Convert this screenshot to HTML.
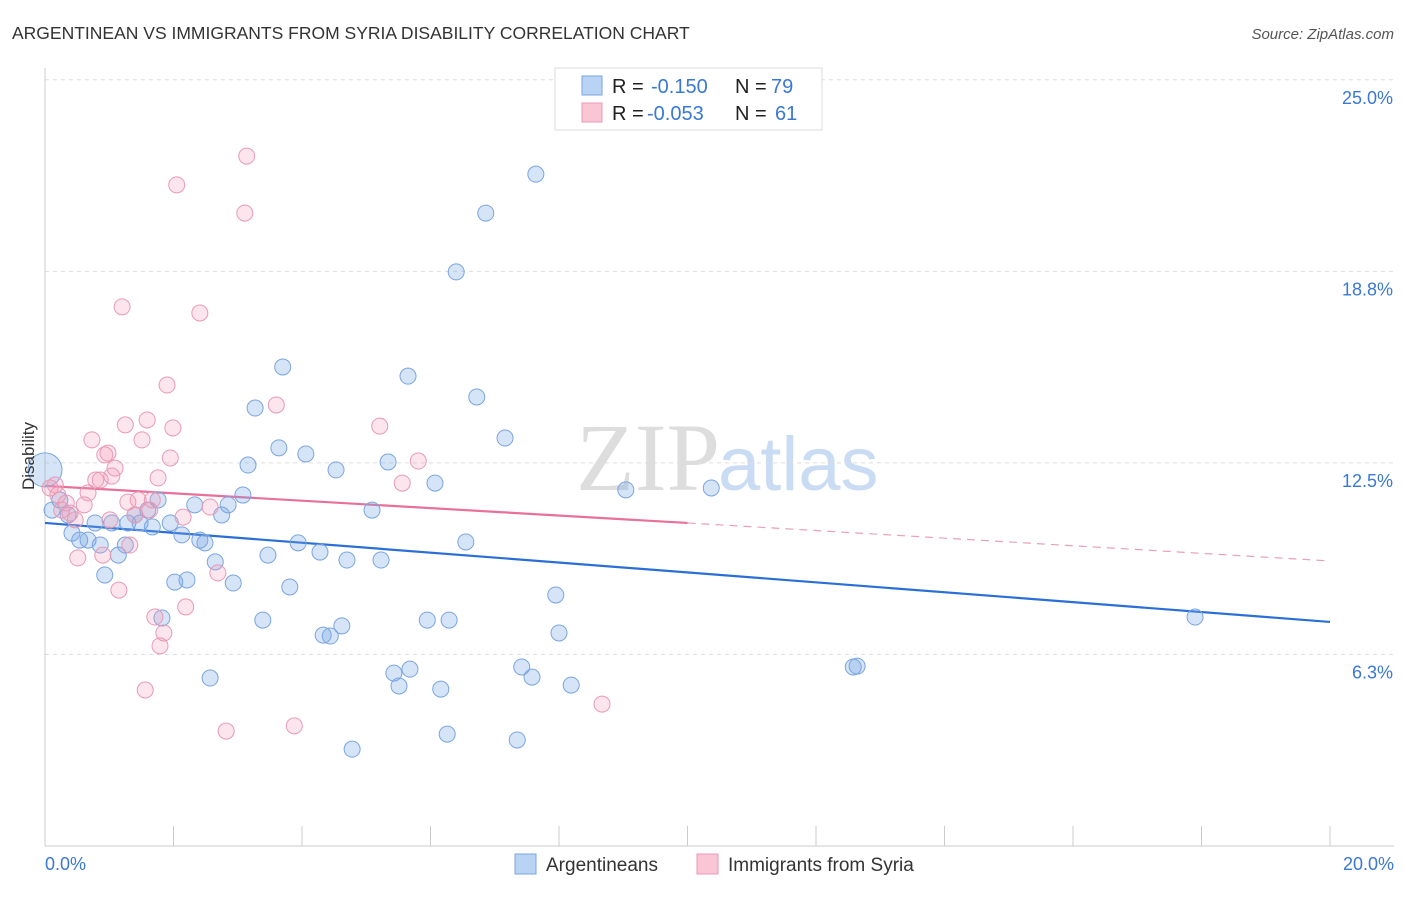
<!DOCTYPE html>
<html><head><meta charset="utf-8"><style>
body{margin:0;background:#fff;font-family:"Liberation Sans",sans-serif;}
</style></head><body>
<svg id="chart" width="1406" height="892" xmlns="http://www.w3.org/2000/svg">
<text x="12" y="39" font-size="17.5" fill="#333">ARGENTINEAN VS IMMIGRANTS FROM SYRIA DISABILITY CORRELATION CHART</text>
<text x="1394" y="39" font-size="15" fill="#555" font-style="italic" text-anchor="end">Source: ZipAtlas.com</text>
<text x="720" y="490" font-size="96" fill="#ddd" text-anchor="end" font-family="Liberation Serif">ZIP</text>
<text x="718" y="490" font-size="76" fill="#c9dcf3">atlas</text>
<g id="grid"></g><g id="axes"></g><g id="trend"></g><g id="points"></g>
<text x="34" y="456" font-size="17" fill="#333" transform="rotate(-90 34 456)" text-anchor="middle">Disability</text>
<g>
<rect x="555" y="68" width="267" height="62" fill="#fff" stroke="#ddd"/>
<rect x="582" y="76" width="20" height="19" fill="#b9d3f5" stroke="#7aa5e0"/>
<rect x="582" y="103" width="20" height="19" fill="#fac6d6" stroke="#e89ab5"/>
<text x="612" y="93" font-size="20" fill="#222">R = </text><text x="651" y="93" font-size="20" fill="#3a78d4">-0.150</text>
<text x="735" y="93" font-size="20" fill="#222">N = </text><text x="771" y="93" font-size="20" fill="#3a78d4">79</text>
<text x="612" y="120" font-size="20" fill="#222">R = </text><text x="647" y="120" font-size="20" fill="#3a78d4">-0.053</text>
<text x="735" y="120" font-size="20" fill="#222">N = </text><text x="775" y="120" font-size="20" fill="#3a78d4">61</text>
</g>
<g>
<rect x="515" y="854" width="21" height="20" fill="#b9d3f5" stroke="#7aa5e0"/>
<text x="546" y="871" font-size="19" fill="#333">Argentineans</text>
<rect x="697" y="854" width="21" height="20" fill="#fac6d6" stroke="#e89ab5"/>
<text x="728" y="871" font-size="19" fill="#333">Immigrants from Syria</text>
</g>
</svg>
<script>
const yTicks=[6.25,12.5,18.75,25];
const yTickLabels=["6.3%","12.5%","18.8%","25.0%"];
const xTicks=[0,2,4,6,8,10,12,14,16,18,20];
const blueX=[0.11,0.23,0.36,0.42,0.54,0.67,0.78,0.86,0.93,1.04,1.14,1.25,1.29,1.40,1.48,1.60,1.67,1.76,1.82,1.95,2.02,2.13,2.21,2.33,2.41,2.49,2.57,2.65,2.75,2.85,2.93,3.08,3.16,3.27,3.39,3.47,3.64,3.70,3.81,3.94,4.06,4.28,4.33,4.44,4.53,4.62,4.70,4.78,5.09,5.23,5.34,5.43,5.51,5.65,5.68,5.95,6.07,6.16,6.26,6.29,6.40,6.55,6.72,6.86,7.16,7.35,7.42,7.58,7.64,7.95,8.00,8.19,9.04,10.37,12.58,12.64,17.90,0];
const blueY=[10.96,11.29,10.80,10.21,9.98,9.98,10.54,9.82,8.84,10.54,9.49,9.82,10.54,10.80,10.54,10.96,10.41,11.29,7.44,10.54,8.61,10.15,8.68,11.13,9.98,9.89,5.48,9.27,10.80,11.13,8.58,11.45,12.43,14.29,7.37,9.49,12.99,15.63,8.45,9.89,12.79,9.59,6.88,6.85,12.27,7.18,9.33,3.16,10.96,9.33,12.53,5.64,5.22,15.33,5.77,7.37,11.84,5.12,3.65,7.37,18.73,9.92,14.65,20.65,13.31,3.46,5.84,5.51,21.92,8.19,6.95,5.25,11.62,11.68,5.84,5.87,7.47,12.27];
const pinkX=[0.08,0.16,0.20,0.26,0.33,0.39,0.47,0.51,0.61,0.67,0.73,0.79,0.86,0.90,0.93,0.98,1.01,1.04,1.09,1.15,1.20,1.25,1.29,1.32,1.40,1.45,1.51,1.56,1.59,1.63,1.67,1.71,1.76,1.79,1.85,1.90,1.95,1.99,2.05,2.15,2.19,2.41,2.57,2.69,2.82,3.11,3.14,3.60,3.88,5.21,5.56,5.81,8.67];
const pinkY=[11.68,11.78,11.45,10.96,11.19,10.86,10.64,9.40,11.13,11.52,13.25,11.94,11.94,9.49,12.76,12.82,10.64,12.07,12.33,8.35,17.59,13.74,11.22,9.82,10.80,11.29,13.25,5.09,13.90,10.96,11.29,7.47,12.01,6.53,6.95,15.04,12.66,13.64,21.57,10.73,7.80,17.39,11.06,8.91,3.75,20.65,22.51,14.39,3.92,13.70,11.84,12.56,4.63];
const blueTrend=[10.54,7.31];
const pinkTrend=[11.75,10.54,9.30];
const NS="http://www.w3.org/2000/svg";
const X=v=>45+v*64.25, Y=v=>846-v*30.65;
function mk(tag,parent){const e=document.createElementNS(NS,tag);document.getElementById(parent).appendChild(e);return e;}
yTicks.forEach((t,i)=>{
 const l=mk('line','grid');
 
 
 l.setAttribute('x1',45);l.setAttribute('x2',1394);l.setAttribute('y1',Y(t));l.setAttribute('y2',Y(t));
 l.setAttribute('stroke','#ddd');l.setAttribute('stroke-dasharray','4,4');
 const tx=mk('text','grid');
 
 
 tx.setAttribute('x',1393);tx.setAttribute('y',Y(t)+24);tx.setAttribute('text-anchor','end');
 tx.setAttribute('font-size','18');tx.setAttribute('fill','#3a78d4');tx.textContent=yTickLabels[i];
});
const ax=mk('line','axes');


ax.setAttribute('x1',45);ax.setAttribute('x2',1394);ax.setAttribute('y1',846);ax.setAttribute('y2',846);ax.setAttribute('stroke','#ccc');
const ay=mk('line','axes');


ay.setAttribute('x1',45);ay.setAttribute('x2',45);ay.setAttribute('y1',68);ay.setAttribute('y2',846);ay.setAttribute('stroke','#ccc');
xTicks.forEach(t=>{
 const l=mk('line','axes');
 
 
 l.setAttribute('x1',X(t));l.setAttribute('x2',X(t));l.setAttribute('y1',826);l.setAttribute('y2',846);l.setAttribute('stroke','#ccc');
});
[[0,"0.0%","start",45],[20,"20.0%","end",1394]].forEach(a=>{
 const tx=mk('text','axes');
 
 
 tx.setAttribute('x',a[3]);tx.setAttribute('y',870);tx.setAttribute('text-anchor',a[2]);
 tx.setAttribute('font-size','18');tx.setAttribute('fill','#3a78d4');tx.textContent=a[1];
});
function line(x1,y1,x2,y2,c,dash,name){
 const l=mk('line','trend');
 
 
 l.setAttribute('x1',X(x1));l.setAttribute('x2',X(x2));l.setAttribute('y1',Y(y1));l.setAttribute('y2',Y(y2));
 l.setAttribute('stroke',c);l.setAttribute('stroke-width',dash?1.2:2.2);if(dash)l.setAttribute('stroke-dasharray','8,6');
}
blueX.forEach((x,i)=>{
 const c=mk('circle','points');
 
 
 c.setAttribute('cx',X(x));c.setAttribute('cy',Y(blueY[i]));c.setAttribute('r',i==blueX.length-1?17:8);
 c.setAttribute('fill','rgba(120,165,230,0.3)');c.setAttribute('stroke','#7aa5e0');
});
pinkX.forEach((x,i)=>{
 const c=mk('circle','points');
 
 
 c.setAttribute('cx',X(x));c.setAttribute('cy',Y(pinkY[i]));c.setAttribute('r',8);
 c.setAttribute('fill','rgba(245,150,180,0.25)');c.setAttribute('stroke','#e89ab5');
});
line(0,blueTrend[0],20,blueTrend[1],'#2a6fd6',false,'argentinean-trendline');
line(0,pinkTrend[0],10,pinkTrend[1],'#e8709a',false,'syria-trendline');
line(10,pinkTrend[1],20,pinkTrend[2],'#e8a0b8',true,'syria-trendline-extension');
</script>
</body></html>
